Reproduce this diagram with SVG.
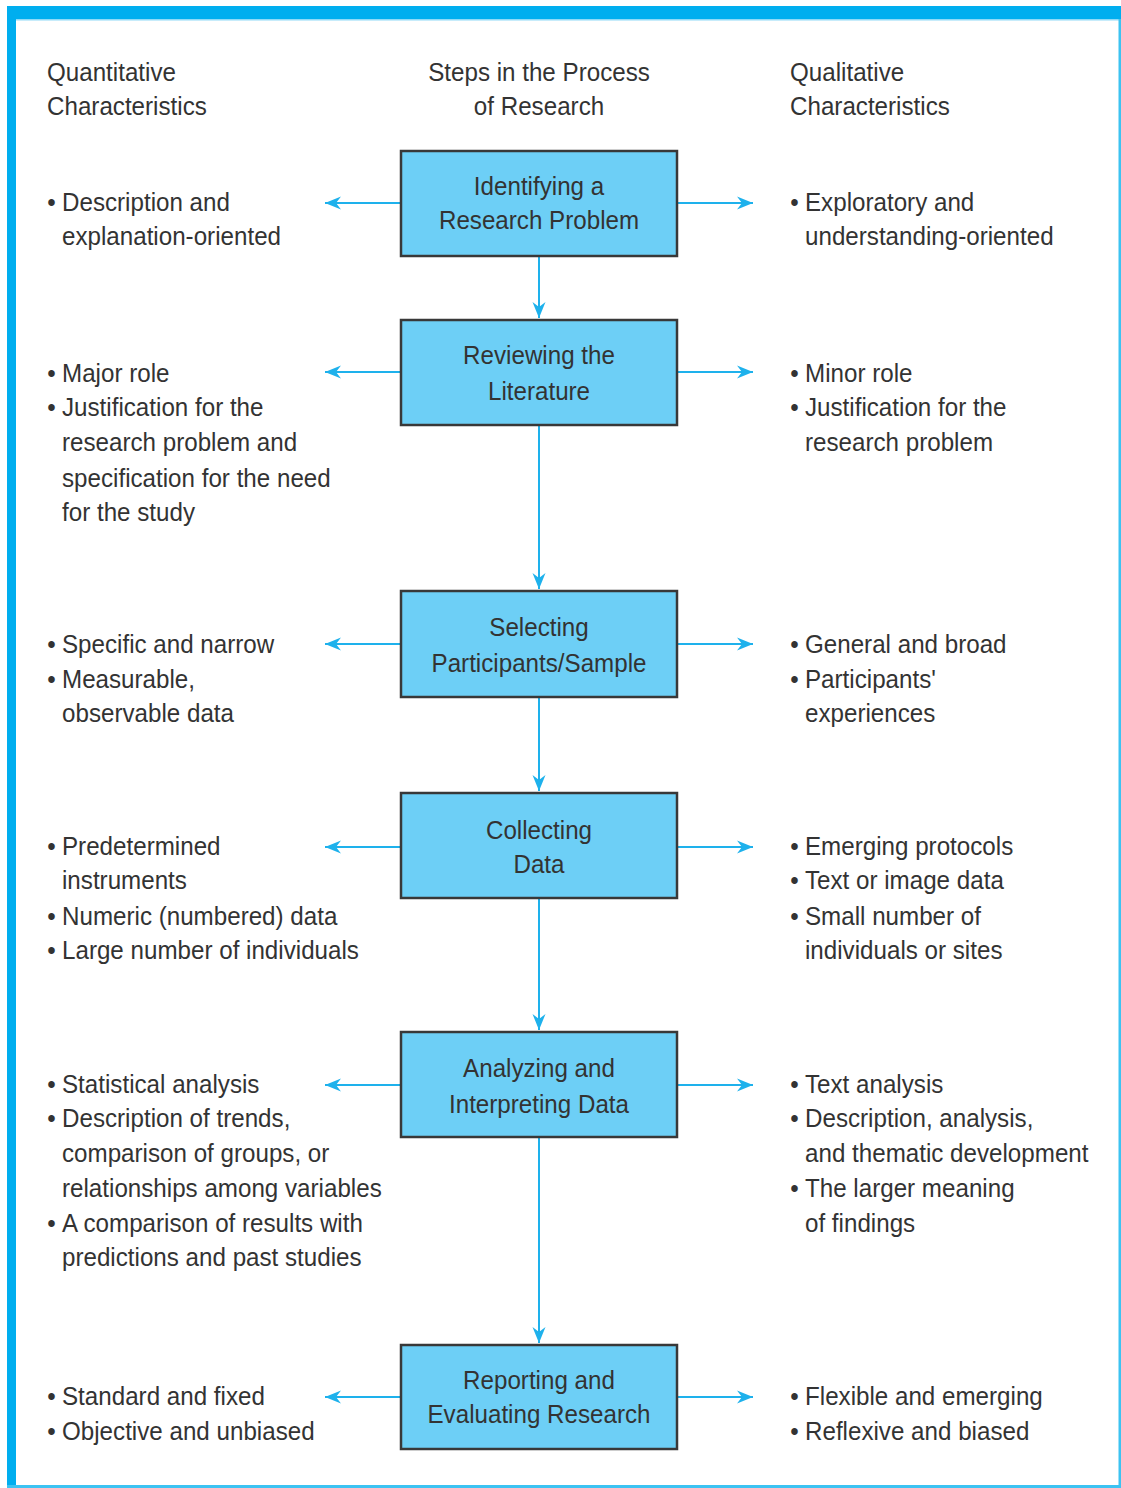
<svg xmlns="http://www.w3.org/2000/svg" width="1121" height="1488" viewBox="0 0 1121 1488">
<defs>
<style>
.t{font-family:"Liberation Sans",Arial,sans-serif;font-size:26px;fill:#333333}
.c{text-anchor:middle}
.box{fill:#6dcff6;stroke:#383838;stroke-width:2.5}
.arr{stroke:#1eb1ec;stroke-width:2;fill:none;marker-end:url(#ah)}
</style>
<marker id="ah" markerUnits="userSpaceOnUse" markerWidth="20" markerHeight="16" viewBox="-16 -8 18 16" refX="0" refY="0" orient="auto">
<path d="M0,0 L-16,-6.5 L-11,0 L-16,6.5 Z" fill="#1eb1ec"/>
</marker>
</defs>
<rect width="1121" height="1488" fill="#ffffff"/>
<g id="frame">
<rect x="7" y="6" width="1114" height="13" fill="#00aeef"/>
<rect x="7" y="19" width="1114" height="1.5" fill="#8fdaf7"/>
<rect x="7" y="6" width="9" height="1482" fill="#00aeef"/>
<rect x="1118.5" y="19" width="2.5" height="1469" fill="#3cc3f2"/>
<rect x="7" y="1485" width="1114" height="3" fill="#3cc3f2"/>
</g>
<g id="headers">
<g transform="translate(47,0) scale(0.93,1)">
<text class="t" x="0" y="81">Quantitative</text>
<text class="t" x="0" y="115">Characteristics</text>
</g>
<g transform="translate(539,0) scale(0.93,1)">
<text class="t c" x="0" y="81">Steps in the Process</text>
<text class="t c" x="0" y="115">of Research</text>
</g>
<g transform="translate(790,0) scale(0.93,1)">
<text class="t" x="0" y="81">Qualitative</text>
<text class="t" x="0" y="115">Characteristics</text>
</g>
</g>
<g id="connectors">
<line class="arr" x1="539" y1="257" x2="539" y2="318"/>
<line class="arr" x1="539" y1="426" x2="539" y2="589"/>
<line class="arr" x1="539" y1="698" x2="539" y2="791"/>
<line class="arr" x1="539" y1="899" x2="539" y2="1030"/>
<line class="arr" x1="539" y1="1138" x2="539" y2="1343"/>
<line class="arr" x1="400" y1="203" x2="325" y2="203"/>
<line class="arr" x1="677" y1="203" x2="753" y2="203"/>
<line class="arr" x1="400" y1="372" x2="325" y2="372"/>
<line class="arr" x1="677" y1="372" x2="753" y2="372"/>
<line class="arr" x1="400" y1="644" x2="325" y2="644"/>
<line class="arr" x1="677" y1="644" x2="753" y2="644"/>
<line class="arr" x1="400" y1="847" x2="325" y2="847"/>
<line class="arr" x1="677" y1="847" x2="753" y2="847"/>
<line class="arr" x1="400" y1="1085" x2="325" y2="1085"/>
<line class="arr" x1="677" y1="1085" x2="753" y2="1085"/>
<line class="arr" x1="400" y1="1397" x2="325" y2="1397"/>
<line class="arr" x1="677" y1="1397" x2="753" y2="1397"/>
</g>
<g id="box1">
<rect class="box" x="401" y="151" width="276" height="105"/>
<g transform="translate(539,0) scale(0.93,1)"><text class="t c" x="0" y="195">Identifying a</text><text class="t c" x="0" y="229">Research Problem</text></g>
</g>
<g id="box2">
<rect class="box" x="401" y="320" width="276" height="105"/>
<g transform="translate(539,0) scale(0.93,1)"><text class="t c" x="0" y="364">Reviewing the</text><text class="t c" x="0" y="400">Literature</text></g>
</g>
<g id="box3">
<rect class="box" x="401" y="591" width="276" height="106"/>
<g transform="translate(539,0) scale(0.93,1)"><text class="t c" x="0" y="636">Selecting</text><text class="t c" x="0" y="672">Participants/Sample</text></g>
</g>
<g id="box4">
<rect class="box" x="401" y="793" width="276" height="105"/>
<g transform="translate(539,0) scale(0.93,1)"><text class="t c" x="0" y="839">Collecting</text><text class="t c" x="0" y="873">Data</text></g>
</g>
<g id="box5">
<rect class="box" x="401" y="1032" width="276" height="105"/>
<g transform="translate(539,0) scale(0.93,1)"><text class="t c" x="0" y="1077">Analyzing and</text><text class="t c" x="0" y="1113">Interpreting Data</text></g>
</g>
<g id="box6">
<rect class="box" x="401" y="1345" width="276" height="104"/>
<g transform="translate(539,0) scale(0.93,1)"><text class="t c" x="0" y="1389">Reporting and</text><text class="t c" x="0" y="1423">Evaluating Research</text></g>
</g>
<g id="quantitative" transform="translate(62,0) scale(0.93,1)">
<text class="t" x="-16" y="211">•</text><text class="t" x="0" y="211">Description and</text>
<text class="t" x="0" y="245">explanation-oriented</text>
<text class="t" x="-16" y="382">•</text><text class="t" x="0" y="382">Major role</text>
<text class="t" x="-16" y="416">•</text><text class="t" x="0" y="416">Justification for the</text>
<text class="t" x="0" y="451">research problem and</text>
<text class="t" x="0" y="487">specification for the need</text>
<text class="t" x="0" y="521">for the study</text>
<text class="t" x="-16" y="653">•</text><text class="t" x="0" y="653">Specific and narrow</text>
<text class="t" x="-16" y="688">•</text><text class="t" x="0" y="688">Measurable,</text>
<text class="t" x="0" y="722">observable data</text>
<text class="t" x="-16" y="855">•</text><text class="t" x="0" y="855">Predetermined</text>
<text class="t" x="0" y="889">instruments</text>
<text class="t" x="-16" y="925">•</text><text class="t" x="0" y="925">Numeric (numbered) data</text>
<text class="t" x="-16" y="959">•</text><text class="t" x="0" y="959">Large number of individuals</text>
<text class="t" x="-16" y="1093">•</text><text class="t" x="0" y="1093">Statistical analysis</text>
<text class="t" x="-16" y="1127">•</text><text class="t" x="0" y="1127">Description of trends,</text>
<text class="t" x="0" y="1162">comparison of groups, or</text>
<text class="t" x="0" y="1197">relationships among variables</text>
<text class="t" x="-16" y="1232">•</text><text class="t" x="0" y="1232">A comparison of results with</text>
<text class="t" x="0" y="1266">predictions and past studies</text>
<text class="t" x="-16" y="1405">•</text><text class="t" x="0" y="1405">Standard and fixed</text>
<text class="t" x="-16" y="1440">•</text><text class="t" x="0" y="1440">Objective and unbiased</text>
</g>
<g id="qualitative" transform="translate(805,0) scale(0.93,1)">
<text class="t" x="-16" y="211">•</text><text class="t" x="0" y="211">Exploratory and</text>
<text class="t" x="0" y="245">understanding-oriented</text>
<text class="t" x="-16" y="382">•</text><text class="t" x="0" y="382">Minor role</text>
<text class="t" x="-16" y="416">•</text><text class="t" x="0" y="416">Justification for the</text>
<text class="t" x="0" y="451">research problem</text>
<text class="t" x="-16" y="653">•</text><text class="t" x="0" y="653">General and broad</text>
<text class="t" x="-16" y="688">•</text><text class="t" x="0" y="688">Participants'</text>
<text class="t" x="0" y="722">experiences</text>
<text class="t" x="-16" y="855">•</text><text class="t" x="0" y="855">Emerging protocols</text>
<text class="t" x="-16" y="889">•</text><text class="t" x="0" y="889">Text or image data</text>
<text class="t" x="-16" y="925">•</text><text class="t" x="0" y="925">Small number of</text>
<text class="t" x="0" y="959">individuals or sites</text>
<text class="t" x="-16" y="1093">•</text><text class="t" x="0" y="1093">Text analysis</text>
<text class="t" x="-16" y="1127">•</text><text class="t" x="0" y="1127">Description, analysis,</text>
<text class="t" x="0" y="1162">and thematic development</text>
<text class="t" x="-16" y="1197">•</text><text class="t" x="0" y="1197">The larger meaning</text>
<text class="t" x="0" y="1232">of findings</text>
<text class="t" x="-16" y="1405">•</text><text class="t" x="0" y="1405">Flexible and emerging</text>
<text class="t" x="-16" y="1440">•</text><text class="t" x="0" y="1440">Reflexive and biased</text>
</g>
</svg>
